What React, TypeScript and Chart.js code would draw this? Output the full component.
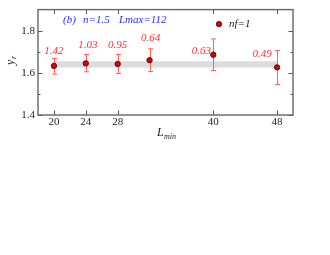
import React, { useEffect, useRef } from "react";
import { Chart, registerables } from "chart.js";

Chart.register(...registerables);

const lminValues = [20, 24, 28, 32, 40, 48];
const yrValues = [1.633, 1.645, 1.642, 1.66, 1.686, 1.626];
const yrErrLow = [1.594, 1.605, 1.597, 1.606, 1.611, 1.545];
const yrErrHigh = [1.668, 1.687, 1.687, 1.714, 1.761, 1.706];
const chiLabels = ["1.42", "1.03", "0.95", "0.64", "0.63", "0.49"];
const xTickValues = [20, 24, 28, 40, 48];
const yTickValues = [1.4, 1.6, 1.8];
const yMinorTicks = [1.5, 1.7];
const bandRange = [1.625, 1.655];
const bandSpan = [20, 48];
const legendLabel = "nf=1";
const infoParts = ["(b)", "n=1.5", "Lmax=112"];

const SERIF = "'Liberation Serif', 'Times New Roman', serif";

// pixel offsets of the value labels relative to their points
const labelOffsets = [
  [0, -14.5],
  [2, -18.5],
  [0, -18.5],
  [1, -22.5],
  [-12, -4],
  [-15, -13],
];
const infoOffsets = [25, 45, 81];

const overlay = {
  id: "overlay",
  beforeDatasetsDraw(chart: any) {
    const { ctx, scales } = chart;
    const x = scales.x;
    const y = scales.y;
    ctx.save();
    ctx.fillStyle = "#dcdcdc";
    const x0 = x.getPixelForValue(bandSpan[0]);
    const x1 = x.getPixelForValue(bandSpan[1]);
    const y0 = y.getPixelForValue(bandRange[1]);
    const y1 = y.getPixelForValue(bandRange[0]);
    ctx.fillRect(x0, y0, x1 - x0, y1 - y0);

    ctx.strokeStyle = "#ff6060";
    ctx.lineWidth = 1;
    lminValues.forEach((v, i) => {
      const px = Math.round(x.getPixelForValue(v)) + 0.5;
      const pl = y.getPixelForValue(yrErrLow[i]);
      const ph = y.getPixelForValue(yrErrHigh[i]);
      ctx.beginPath();
      ctx.moveTo(px, pl);
      ctx.lineTo(px, ph);
      ctx.moveTo(px - 2.5, pl);
      ctx.lineTo(px + 2.5, pl);
      ctx.moveTo(px - 2.5, ph);
      ctx.lineTo(px + 2.5, ph);
      ctx.stroke();
    });
    ctx.restore();
  },
  afterDraw(chart: any) {
    const { ctx, chartArea, scales } = chart;
    const x = scales.x;
    const y = scales.y;
    const { left, right, top, bottom } = chartArea;
    ctx.save();

    // ticks
    ctx.strokeStyle = "#555";
    ctx.lineWidth = 1;
    ctx.beginPath();
    xTickValues.forEach((v) => {
      const px = Math.round(x.getPixelForValue(v)) + 0.5;
      ctx.moveTo(px, bottom);
      ctx.lineTo(px, bottom - 4.5);
      ctx.moveTo(px, top);
      ctx.lineTo(px, top + 4.5);
    });
    yTickValues.forEach((v) => {
      const py = Math.round(y.getPixelForValue(v)) + 0.5;
      ctx.moveTo(left, py);
      ctx.lineTo(left + 4.5, py);
      ctx.moveTo(right, py);
      ctx.lineTo(right - 4.5, py);
    });
    yMinorTicks.forEach((v) => {
      const py = Math.round(y.getPixelForValue(v)) + 0.5;
      ctx.moveTo(left, py);
      ctx.lineTo(left + 2.5, py);
      ctx.moveTo(right, py);
      ctx.lineTo(right - 2.5, py);
    });
    ctx.stroke();

    // frame
    ctx.strokeStyle = "#666";
    ctx.lineWidth = 1.4;
    ctx.strokeRect(left, top, right - left, bottom - top);

    // value labels
    ctx.fillStyle = "#ff3030";
    ctx.font = "italic 11px " + SERIF;
    ctx.textAlign = "center";
    ctx.textBaseline = "middle";
    lminValues.forEach((v, i) => {
      const px = x.getPixelForValue(v);
      const py = y.getPixelForValue(yrValues[i]);
      ctx.fillText(chiLabels[i], px + labelOffsets[i][0], py + labelOffsets[i][1]);
    });

    // info text
    ctx.fillStyle = "#2a2aff";
    ctx.textAlign = "left";
    infoParts.forEach((t, i) => {
      ctx.fillText(t, left + infoOffsets[i], top + 10.5);
    });

    // legend
    ctx.beginPath();
    ctx.arc(left + 181, top + 14.5, 2.7, 0, Math.PI * 2);
    ctx.fillStyle = "#e00000";
    ctx.fill();
    ctx.strokeStyle = "#300000";
    ctx.lineWidth = 0.8;
    ctx.stroke();
    ctx.fillStyle = "#222";
    ctx.fillText(legendLabel, left + 191, top + 14.5);

    // y axis title
    ctx.save();
    ctx.translate(11, 61);
    ctx.rotate(-Math.PI / 2);
    ctx.textAlign = "left";
    ctx.textBaseline = "alphabetic";
    ctx.fillStyle = "#222";
    ctx.font = "italic 12px " + SERIF;
    ctx.fillText("y", -4, 3);
    ctx.font = "italic 8px " + SERIF;
    ctx.fillText("r", 2, 5);
    ctx.restore();

    // x axis title
    ctx.textAlign = "left";
    ctx.textBaseline = "alphabetic";
    ctx.fillStyle = "#222";
    ctx.font = "italic 12px " + SERIF;
    ctx.fillText("L", 157, 136);
    ctx.font = "italic 8px " + SERIF;
    ctx.fillText("min", 164, 138.5);

    ctx.restore();
  },
};

export default function App() {
  const canvasRef = useRef<HTMLCanvasElement | null>(null);

  useEffect(() => {
    const canvas = canvasRef.current;
    if (!canvas) return;
    const tickFont = { family: SERIF, size: 11 };
    const chart = new Chart(canvas, {
      type: "scatter",
      data: {
        datasets: [
          {
            label: legendLabel,
            data: lminValues.map((v, i) => ({ x: v, y: yrValues[i] })),
            backgroundColor: "#e00000",
            borderColor: "#300000",
            borderWidth: 0.8,
            pointRadius: 2.7,
            pointHoverRadius: 2.7,
          },
        ],
      },
      options: {
        animation: false,
        responsive: false,
        devicePixelRatio: 1,
        layout: { padding: { top: 5, right: 37, left: 0, bottom: 0 } },
        plugins: {
          legend: { display: false },
          tooltip: { enabled: false },
        },
        scales: {
          x: {
            type: "linear",
            min: 18,
            max: 50,
            afterBuildTicks: (s: any) => {
              s.ticks = xTickValues.map((v) => ({ value: v }));
            },
            afterFit: (s: any) => {
              s.height = 140;
            },
            ticks: {
              font: tickFont,
              color: "#222",
              padding: 1,
              maxRotation: 0,
              autoSkip: false,
              callback: (v: any) => String(v),
            },
            grid: { display: false, drawTicks: false },
            border: { display: false },
          },
          y: {
            min: 1.4,
            max: 1.9,
            afterBuildTicks: (s: any) => {
              s.ticks = yTickValues.map((v) => ({ value: v }));
            },
            afterFit: (s: any) => {
              s.width = 38;
            },
            ticks: {
              font: tickFont,
              color: "#222",
              padding: 3,
              callback: (v: any) => Number(v).toFixed(1),
            },
            grid: { display: false, drawTicks: false },
            border: { display: false },
          },
        },
      },
      plugins: [overlay],
    } as any);
    return () => chart.destroy();
  }, []);

  return (
    <div style={{ position: "absolute", left: 0, top: 0, width: 330, height: 255, background: "#fff" }}>
      <canvas ref={canvasRef} width={330} height={255} style={{ width: 330, height: 255 }} />
    </div>
  );
}
